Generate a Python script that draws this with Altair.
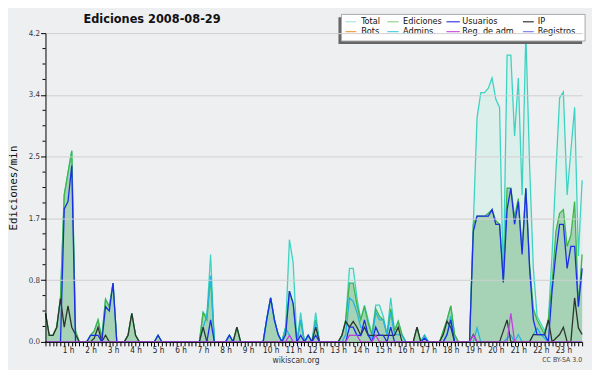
import altair as alt
import pandas as pd

FONT = "DejaVu Sans Condensed, DejaVu Sans"
TITLE = "Ediciones  2008-08-29"
Y_TITLE = "Ediciones/min"

# 10-minute slots, 0 h .. 23 h 50
total = [
    0.39, 0.09, 0.09, 0.2, 0.6, 2.0, 2.3, 2.6, 0.15, 0, 0, 0,
    0.09, 0.15, 0.3, 0.05, 0.58, 0.48, 0.8, 0, 0, 0, 0.09, 0.39,
    0.09, 0, 0, 0, 0, 0, 0.09, 0, 0, 0, 0, 0,
    0, 0, 0, 0, 0, 0, 0.4, 0.35, 1.19, 0, 0, 0,
    0, 0.09, 0, 0.2, 0, 0, 0, 0, 0, 0, 0, 0.32,
    0.6, 0.3, 0.1, 0, 0.2, 1.39, 1.08, 0, 0.4, 0, 0.09, 0,
    0.4, 0, 0, 0, 0, 0, 0, 0.09, 0.3, 1.0, 1.0, 0.6,
    0.3, 0.5, 0.3, 0.1, 0.5, 0.5, 0.35, 0.1, 0.6, 0.15, 0.28, 0.1,
    0, 0, 0, 0.2, 0, 0.09, 0, 0, 0, 0, 0.15, 0.3,
    0.49, 0.1, 0, 0, 0, 0, 1.6, 3.05, 3.39, 3.39, 3.45, 3.59,
    3.3, 3.19, 0.85, 3.9, 3.9, 2.8, 3.59, 2.0, 4.2, 2.4, 1.0, 0.35,
    0.25, 0.15, 0.3, 1.2, 2.3, 3.32, 3.4, 2.0, 2.6, 3.19, 1.17, 2.2,
]
ediciones = [
    0.39, 0.09, 0.09, 0.2, 0.6, 2.0, 2.3, 2.6, 0.15, 0, 0, 0,
    0.09, 0.15, 0.3, 0.05, 0.58, 0.48, 0.8, 0, 0, 0, 0.09, 0.39,
    0.09, 0, 0, 0, 0, 0, 0.09, 0, 0, 0, 0, 0,
    0, 0, 0, 0, 0, 0, 0.4, 0.3, 0.9, 0, 0, 0,
    0, 0.09, 0, 0.2, 0, 0, 0, 0, 0, 0, 0, 0.32,
    0.6, 0.3, 0.1, 0, 0.2, 0.69, 0.52, 0, 0.3, 0, 0.09, 0,
    0.3, 0, 0, 0, 0, 0, 0, 0.09, 0.3, 0.8, 0.8, 0.5,
    0.3, 0.48, 0.25, 0.1, 0.45, 0.35, 0.3, 0.1, 0.45, 0.15, 0.28, 0.1,
    0, 0, 0, 0.2, 0, 0.09, 0, 0, 0, 0, 0.15, 0.3,
    0.49, 0.1, 0, 0, 0, 0, 1.6, 1.71, 1.71, 1.71, 1.75, 1.8,
    1.65, 1.6, 0.85, 2.09, 2.09, 1.7, 1.95, 1.25, 2.09, 1.05, 0.45, 0.3,
    0.2, 0.1, 0.3, 0.8, 1.5, 1.75, 1.8, 1.3, 1.45, 1.91, 0.5, 1.19,
]
usuarios = [
    0, 0, 0, 0, 0, 1.81, 1.91, 2.4, 0, 0, 0, 0,
    0.09, 0.09, 0.09, 0, 0.48, 0.42, 0.8, 0, 0, 0, 0, 0,
    0, 0, 0, 0, 0, 0, 0.09, 0, 0, 0, 0, 0,
    0, 0, 0, 0, 0, 0, 0, 0, 0.3, 0, 0, 0,
    0, 0.09, 0, 0, 0, 0, 0, 0, 0, 0, 0, 0.32,
    0.6, 0.3, 0.1, 0, 0.1, 0.69, 0.52, 0, 0.09, 0, 0.09, 0,
    0.09, 0, 0, 0, 0, 0, 0, 0, 0, 0.2, 0.2, 0.09,
    0.09, 0.3, 0.09, 0, 0.2, 0.09, 0.09, 0, 0.2, 0, 0, 0,
    0, 0, 0, 0, 0, 0.05, 0, 0, 0, 0, 0, 0.1,
    0.3, 0, 0, 0, 0, 0, 1.5, 1.71, 1.71, 1.71, 1.71, 1.8,
    1.6, 1.6, 0.81, 1.8, 2.09, 1.6, 1.91, 1.19, 2.09, 1.0, 0.3, 0.1,
    0.1, 0.1, 0, 0.7, 1.2, 1.6, 1.6, 1.0, 1.3, 1.3, 0.48, 1.0,
]
ip = [
    0.39, 0.09, 0.09, 0.2, 0.59, 0.2, 0.49, 0.2, 0.1, 0, 0, 0,
    0, 0.05, 0.2, 0, 0.09, 0, 0, 0, 0, 0, 0.09, 0.39,
    0.09, 0, 0, 0, 0, 0, 0, 0, 0, 0, 0, 0,
    0, 0, 0, 0, 0, 0, 0.2, 0, 0, 0, 0, 0,
    0, 0, 0, 0.2, 0, 0, 0, 0, 0, 0, 0, 0,
    0, 0, 0, 0, 0, 0, 0, 0, 0, 0, 0, 0,
    0.2, 0, 0, 0, 0, 0, 0, 0.09, 0.28, 0.2, 0.28, 0.2,
    0.09, 0.2, 0.09, 0.09, 0.09, 0.09, 0.09, 0.09, 0.09, 0.09, 0.2, 0,
    0, 0, 0, 0.2, 0, 0, 0, 0, 0, 0, 0.1, 0.28,
    0.2, 0, 0, 0, 0, 0, 0.1, 0, 0, 0, 0, 0,
    0, 0, 0.15, 0.3, 0, 0, 0, 0, 0, 0, 0.1, 0.1,
    0.1, 0.1, 0.3, 0, 0.05, 0.1, 0.2, 0, 0, 0.6, 0.19, 0.1,
]
admins = [
    0, 0, 0, 0, 0, 0, 0, 0, 0, 0, 0, 0,
    0, 0, 0, 0, 0, 0, 0, 0, 0, 0, 0, 0,
    0, 0, 0, 0, 0, 0, 0, 0, 0, 0, 0, 0,
    0, 0, 0, 0, 0, 0, 0.2, 0.35, 0.9, 0, 0, 0,
    0, 0.09, 0, 0, 0, 0, 0, 0, 0, 0, 0, 0.32,
    0.6, 0.3, 0.1, 0, 0.19, 0.09, 0, 0, 0.3, 0, 0.09, 0,
    0.28, 0, 0, 0, 0, 0, 0, 0, 0.1, 0.6, 0.55, 0.4,
    0.2, 0.2, 0.1, 0.05, 0.4, 0.3, 0.3, 0.1, 0.4, 0.1, 0.1, 0.09,
    0, 0, 0, 0, 0, 0.09, 0, 0, 0, 0, 0, 0.1,
    0.35, 0, 0, 0, 0, 0, 0, 0.19, 0, 0, 0, 0,
    0, 0, 0, 0.05, 0.09, 0, 0.1, 0, 0, 0, 0.1, 0.19,
    0.1, 0.05, 0, 0, 0, 0, 0, 0, 0, 0, 0, 0,
]
reg_adm = [
    0, 0, 0, 0, 0, 0, 0, 0, 0, 0, 0, 0,
    0, 0, 0, 0, 0, 0, 0, 0, 0, 0, 0, 0,
    0, 0, 0, 0, 0, 0, 0, 0, 0, 0, 0, 0,
    0, 0, 0, 0, 0, 0, 0, 0, 0, 0, 0, 0,
    0, 0, 0, 0, 0, 0, 0, 0, 0, 0, 0, 0,
    0, 0, 0, 0, 0, 0.09, 0, 0, 0, 0, 0, 0,
    0, 0, 0, 0, 0, 0, 0, 0, 0, 0.09, 0.09, 0.09,
    0, 0, 0, 0, 0.09, 0, 0, 0, 0, 0, 0, 0,
    0, 0, 0, 0, 0, 0, 0, 0, 0, 0, 0, 0,
    0, 0, 0, 0, 0, 0, 0.09, 0, 0, 0, 0, 0,
    0, 0, 0, 0, 0.39, 0, 0, 0, 0, 0, 0, 0,
    0, 0, 0, 0, 0, 0, 0, 0, 0, 0, 0, 0,
]

Y_MAJOR = [0, 0.84, 1.68, 2.52, 3.36, 4.2]
Y_MINOR = [0.21, 0.42, 0.63, 1.05, 1.26, 1.47, 1.89, 2.1, 2.31,
           2.73, 2.94, 3.15, 3.57, 3.78, 3.99]

LEGEND_LABELS = ["Total", "Ediciones", "Usuarios", "IP",
                 "Bots", "Admins.", "Reg. de adm.", "Registros"]
LEGEND_COLORS = ["#a8e6de", "#8fd48f", "#3a3ae0", "#303030",
                 "#f0a040", "#50cce6", "#cc50e0", "#8080f0"]

# layout constants (plot-relative pixels)
W, H = 544, 313
SYM_X0 = [304, 346.5, 406.5, 484]
SYM_X1 = [315, 358, 420, 495]
TXT_X = [320, 362.5, 422.5, 499]
ROW_Y = [-12, -2]

n = len(total)
df = pd.DataFrame({
    "idx": list(range(n)),
    "total": total,
    "ediciones": ediciones,
    "usuarios": usuarios,
    "ip": ip,
    "admins": admins,
    "reg_adm": reg_adm,
})

xscale = alt.Scale(domain=[0, n - 1], nice=False, zero=False)
yscale = alt.Scale(domain=[0, 4.2], nice=False, zero=True)

xaxis = alt.Axis(
    values=list(range(n)),
    labelExpr="datum.value % 6 == 0 && datum.value > 0 ? (datum.value / 6) + ' h' : ''",
    labelOverlap=False, labelFlush=False, tickSize=4, tickColor="#000",
    domainColor="#000", grid=False, title=None, labelFont=FONT,
    labelFontSize=8.3, labelColor="#222", labelPadding=-0.5, labelBaseline="top",
    zindex=1,
)
yaxis = alt.Axis(
    values=Y_MAJOR, format=".1f", tickSize=5, tickColor="#000",
    domainColor="#000", grid=True, gridColor="#cfcfcf", title=None,
    labelFont=FONT, labelFontSize=8, labelColor="#333", labelPadding=1,
    zindex=1,
)

base = alt.Chart(df)
X = alt.X("idx:Q", scale=xscale, axis=xaxis)


def Y(field):
    return alt.Y(f"{field}:Q", scale=yscale, axis=yaxis)


total_area = base.mark_area(
    color="#d5efe7", line={"color": "#3dd3c3", "strokeWidth": 1.3}
).encode(x=X, y=Y("total"))

ed_area = base.mark_area(
    color="#8ec8a0", line={"color": "#3db548", "strokeWidth": 1.3}
).encode(x=X, y=Y("ediciones"))


def line(field, color, width=1.3):
    return base.mark_line(color=color, strokeWidth=width).encode(x=X, y=Y(field))


admins_l = line("admins", "#22b6e0")
ip_l = line("ip", "#2c332d")
usr_l = line("usuarios", "#1b2de8")
reg_l = line("reg_adm", "#c23fe0")

minor = alt.Chart(pd.DataFrame({"v": Y_MINOR})).mark_rule(
    color="#000", strokeWidth=1
).encode(x=alt.value(-3), x2=alt.value(0), y=Y("v"))

one = pd.DataFrame({"a": [0]})
title = alt.Chart(one).mark_text(
    text=TITLE, font=FONT, fontSize=12.8, fontWeight="bold", color="#111",
    align="center", baseline="alphabetic"
).encode(x=alt.value(108), y=alt.value(-10))

ytitle = alt.Chart(one).mark_text(
    text=Y_TITLE, font="DejaVu Sans Mono", fontSize=11, color="#111",
    angle=270, align="center", baseline="middle"
).encode(x=alt.value(-31.5), y=alt.value(157))

footer = alt.Chart(one).mark_text(
    text="wikiscan.org", font=FONT, fontSize=8.5, color="#333",
    align="center", baseline="middle"
).encode(x=alt.value(254), y=alt.value(331.5))

cc = alt.Chart(one).mark_text(
    text="CC BY-SA 3.0", font=FONT, fontSize=7, color="#444",
    align="right", baseline="middle"
).encode(x=alt.value(544), y=alt.value(331.5))

shadow = alt.Chart(one).mark_rect(color="#666666").encode(
    x=alt.value(297), x2=alt.value(544), y=alt.value(-16), y2=alt.value(11))
box = alt.Chart(one).mark_rect(
    fill="#ffffff", stroke="#a8a8a8", strokeWidth=1
).encode(x=alt.value(300), x2=alt.value(547), y=alt.value(-19), y2=alt.value(8))

legend_layers = []
for k, (lab, col) in enumerate(zip(LEGEND_LABELS, LEGEND_COLORS)):
    r, c = divmod(k, 4)
    legend_layers.append(
        alt.Chart(one).mark_rule(color=col, strokeWidth=1.2).encode(
            x=alt.value(SYM_X0[c]), x2=alt.value(SYM_X1[c]), y=alt.value(ROW_Y[r] + 0.5))
    )
    legend_layers.append(
        alt.Chart(one).mark_text(
            text=lab, font=FONT, fontSize=9.2, color="#111",
            align="left", baseline="middle"
        ).encode(x=alt.value(TXT_X[c]), y=alt.value(ROW_Y[r]))
    )

chart = alt.layer(
    total_area, ed_area, admins_l, ip_l, usr_l, reg_l, minor,
    title, ytitle, footer, cc, shadow, box, *legend_layers
).properties(
    width=W, height=H,
    background="#eeeff1",
    padding={"left": 38, "top": 23, "right": 10, "bottom": 26},
    autosize=alt.AutoSizeParams(type="none"),
).configure_view(stroke=None, fill="#eeeff1")

chart.save("out.html", embed_options={"renderer": "svg", "actions": False})
